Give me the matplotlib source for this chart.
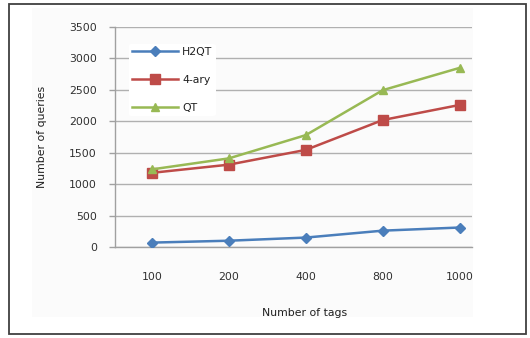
import matplotlib
matplotlib.use("Agg")
import matplotlib.pyplot as plt
from matplotlib.patches import Rectangle

categories = ["100", "200", "400", "800", "1000"]
h2qt = [70, 100, 150, 260, 310]
four_ary = [1180, 1310, 1545, 2020, 2260]
qt = [1235, 1410, 1780, 2495, 2850]
yticks = [0, 500, 1000, 1500, 2000, 2500, 3000, 3500]

plt.rcParams['font.family'] = ['DejaVu Sans']
W, H = 530, 338
FS = 7.8
fig = plt.figure(figsize=(W/100, H/100), dpi=100)
fig.patch.set_facecolor('white')

# subtle chart area background
fig.patches.append(Rectangle((32/W, 1-317/H), (473-32)/W, (317-8)/H,
                             transform=fig.transFigure, facecolor='#fbfbfb',
                             edgecolor='none', zorder=-2))
# outer border
fig.patches.append(Rectangle((9/W, 1-334/H), (526-9)/W, (334-4)/H,
                             transform=fig.transFigure, facecolor='none',
                             edgecolor='#404040', linewidth=1.3, zorder=5))

ax = fig.add_axes([115/W, 1-247/H, (472-115)/W, (247-27)/H])
ax.set_zorder(1)
ax.set_facecolor('none')
x = list(range(len(categories)))
ax.plot(x, h2qt, color='#4a7ebb', marker='D', markersize=5, linewidth=1.8, label='H2QT', zorder=3)
ax.plot(x, four_ary, color='#be4b48', marker='s', markersize=6.5, linewidth=1.8, label='4-ary', zorder=3)
ax.plot(x, qt, color='#98b954', marker='^', markersize=6, linewidth=1.8, label='QT', zorder=3)

ax.set_xlim(-0.48, 4.16)
ax.set_ylim(0, 3500)
ax.set_xticks(x)
ax.set_xticklabels(categories)
ax.set_yticks(yticks)
ax.set_yticklabels([str(v) for v in yticks])
ax.yaxis.grid(True, color='#b0b0b0', linewidth=1.0, zorder=1)
ax.set_axisbelow(True)
for s in ['top', 'right']:
    ax.spines[s].set_visible(False)
ax.spines['left'].set_color('#a0a0a0')
ax.spines['bottom'].set_color('#a0a0a0')
ax.spines['left'].set_linewidth(1.0)
ax.spines['bottom'].set_linewidth(1.0)
ax.tick_params(axis='x', length=0, pad=18, labelsize=FS, colors='#303030')
ax.tick_params(axis='y', length=4, width=1.0, color='#a0a0a0', pad=9, labelsize=FS, labelcolor='#303030')

fig.text(305/W, 1-313/H, 'Number of tags', ha='center', va='center', fontsize=FS, color='#202020')
fig.text(42/W, 1-137/H, 'Number of queries', ha='center', va='center', rotation=90, fontsize=FS, color='#202020')

leg = ax.legend(loc='upper left', bbox_to_anchor=(14/357, 1-17/220), frameon=True,
                facecolor='white', edgecolor='none', framealpha=1, fontsize=FS,
                handlelength=4.2, labelspacing=1.65, borderpad=0.3, handletextpad=0.4,
                borderaxespad=0)
for t in leg.get_texts():
    t.set_color('#202020')

fig.savefig('out.png', dpi=100)
